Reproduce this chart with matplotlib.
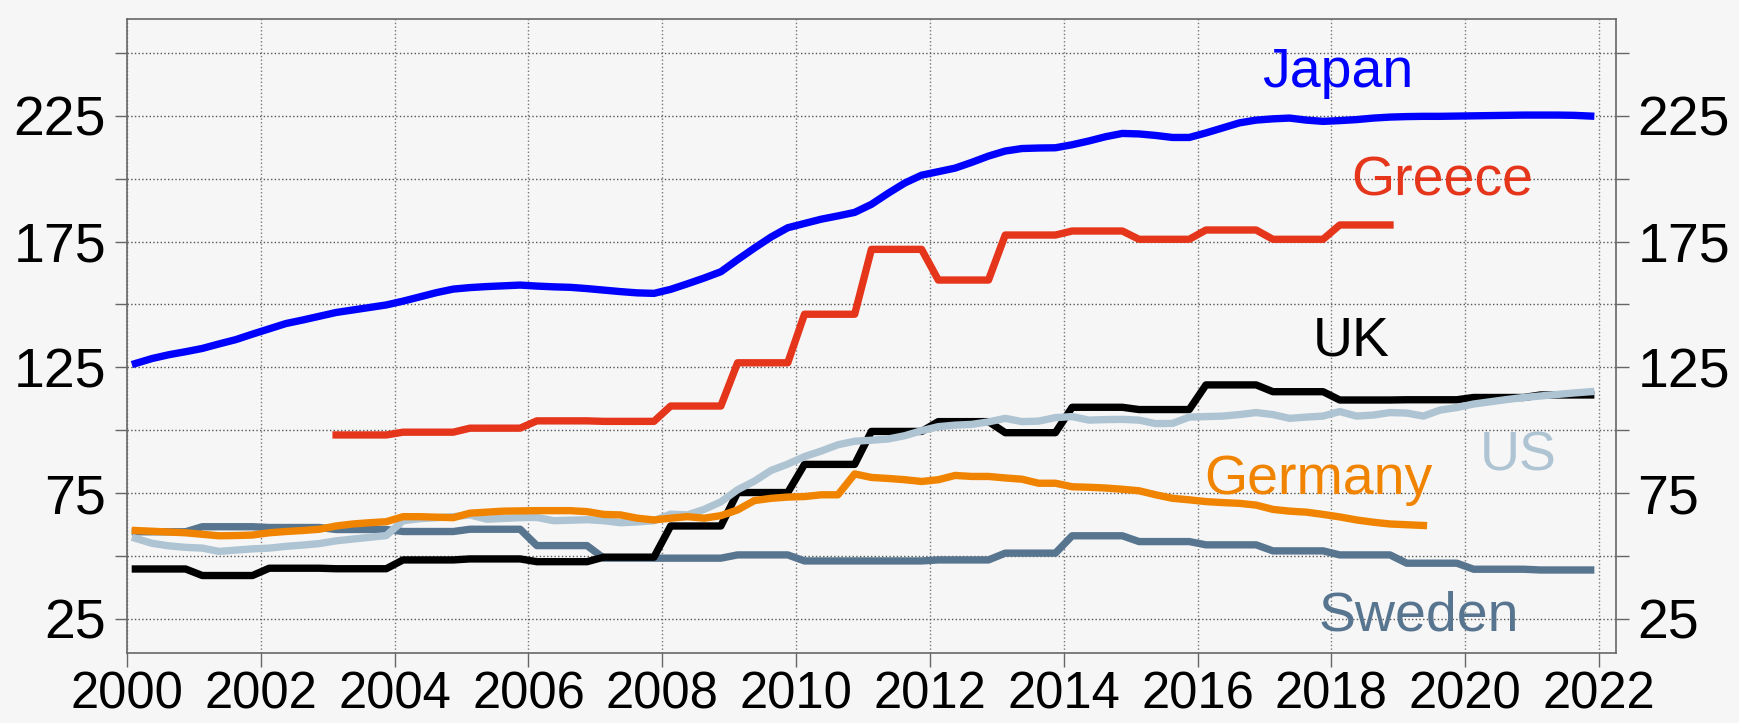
import matplotlib
matplotlib.use('Agg')
import matplotlib.pyplot as plt
import numpy as np
from matplotlib.ticker import MultipleLocator

# quarterly series, first quarter of 2000 onwards
japan = [126.5, 128.5, 130.0, 131.2, 132.5, 134.3, 136.0, 138.2,
         140.3, 142.4, 143.8, 145.3, 146.8, 147.8, 148.8, 149.8,
         151.3, 153.0, 154.7, 156.1, 156.7, 157.1, 157.4, 157.7,
         157.3, 157.0, 156.8, 156.3, 155.7, 155.1, 154.6, 154.4,
         156.0, 158.2, 160.5, 163.0, 167.8, 172.4, 176.8, 180.5,
         182.2, 183.9, 185.2, 186.6, 189.8, 194.2, 198.3, 201.4,
         202.8, 204.2, 206.5, 209.0, 211.0, 212.0, 212.2, 212.3,
         213.5, 215.0, 216.7, 218.0, 217.8, 217.2, 216.4, 216.4,
         218.2, 220.2, 222.2, 223.3, 223.8, 224.1, 223.3, 222.8,
         223.1, 223.5, 224.1, 224.5, 224.7, 224.8, 224.8, 224.9,
         225.0, 225.1, 225.2, 225.3, 225.3, 225.3, 225.2, 224.9]
us = [57.0, 55.0, 54.0, 53.4, 53.1, 51.8, 52.3, 52.8,
      53.1, 53.8, 54.3, 54.9, 56.0, 56.7, 57.4, 58.1,
      64.0, 64.8, 65.2, 65.6, 66.3, 64.6, 64.9, 65.2,
      65.3, 64.0, 64.2, 64.4, 64.0, 63.2, 63.5, 64.0,
      66.6, 66.3, 68.5, 71.5, 76.3, 79.7, 84.0, 86.5,
      89.5, 91.7, 94.2, 95.6, 96.0, 96.5, 97.8, 99.8,
      101.4, 102.0, 102.3, 103.3, 104.7, 103.4, 103.6, 105.0,
      105.4, 104.0, 104.2, 104.3, 104.0, 102.6, 102.7, 105.2,
      105.4, 105.6, 106.2, 107.0, 106.2, 104.7, 105.2, 105.6,
      107.4, 105.6, 106.0, 107.0, 106.8, 105.6, 108.0, 109.0,
      110.4, 111.3, 112.2, 113.0, 113.6, 114.2, 114.8, 115.3]
germany = [60.1, 59.8, 59.5, 59.2, 58.6, 58.0, 58.1, 58.3,
           59.2, 59.7, 60.1, 60.6, 61.9, 62.7, 63.2, 63.6,
           65.6, 65.6, 65.4, 65.2, 67.0, 67.4, 67.8, 67.9,
           68.0, 68.0, 68.0, 67.6, 66.5, 66.3, 65.0, 64.3,
           65.0, 65.6, 65.0, 66.0, 68.3, 72.0, 72.9, 73.4,
           73.6, 74.3, 74.3, 82.6, 81.2, 80.8, 80.3, 79.6,
           80.3, 82.0, 81.6, 81.6, 81.0, 80.5, 78.9, 78.9,
           77.5, 77.3, 77.0, 76.5, 75.9, 74.3, 72.9, 72.3,
           71.6, 71.2, 70.9, 70.2, 68.5, 67.8, 67.4, 66.5,
           65.5, 64.3, 63.4, 62.7, 62.4, 62.1]

# annual series (held flat through the four quarters)
uk_years = list(range(2000, 2022))
uk = [44.8, 42.2, 45.1, 44.9, 48.4, 48.8, 47.7, 49.5, 61.9, 75.2, 86.4,
      99.5, 103.4, 99.0, 109.1, 108.2, 118.0, 115.3, 112.0, 112.1, 113.0, 114.0]
sweden_years = list(range(2000, 2022))
sweden = [59.6, 61.6, 61.3, 60.5, 59.7, 60.6, 54.1, 49.1, 49.1, 50.4, 48.0,
          48.0, 48.4, 51.1, 58.0, 55.7, 54.4, 52.0, 50.4, 47.1, 44.7, 44.4]
greece_years = list(range(2003, 2019))
greece = [98.1, 99.2, 100.8, 103.7, 103.5, 109.6, 126.8, 146.1, 171.9,
          159.7, 177.6, 179.2, 175.9, 179.6, 175.9, 181.6]

labels = ['Japan', 'Greece', 'UK', 'US', 'Germany', 'Sweden']
colors = {'Japan': '#0000ff', 'Greece': '#e5361b', 'UK': '#000000',
          'US': '#aec4d3', 'Germany': '#f08400', 'Sweden': '#587590'}
label_pos = {'Japan': (2018.1, 236.5), 'Greece': (2019.66, 193.5),
             'UK': (2018.3, 129.8), 'US': (2020.79, 84.1),
             'Germany': (2017.8, 74.6), 'Sweden': (2019.3, 20.5)}


def quarters(start_year, n):
    return start_year + 0.125 + 0.25 * np.arange(n)


def annual(years, vals):
    return quarters(years[0], 4 * len(years)), np.repeat(vals, 4)


def main():
    plt.rcParams['font.family'] = ['Liberation Sans', 'DejaVu Sans']
    bg = '#f6f6f6'
    fig = plt.figure(figsize=(17.4, 7.23), dpi=100, facecolor=bg)
    ax = fig.add_axes([0.073, 0.0972, 0.856, 0.8765])
    ax.set_facecolor(bg)

    lw = 5.3
    x, y = annual(sweden_years, sweden)
    ax.plot(x, y, color=colors['Sweden'], lw=lw)
    x, y = annual(uk_years, uk)
    ax.plot(x, y, color=colors['UK'], lw=lw)
    ax.plot(quarters(2000, len(us)), us, color=colors['US'], lw=lw)
    ax.plot(quarters(2000, len(germany)), germany, color=colors['Germany'], lw=lw)
    x, y = annual(greece_years, greece)
    ax.plot(x, y, color=colors['Greece'], lw=lw)
    ax.plot(quarters(2000, len(japan)), japan, color=colors['Japan'], lw=lw)

    for name in labels:
        px, py = label_pos[name]
        ax.text(px, py, name, color=colors[name], fontsize=40,
                ha='center', va='baseline')

    ax.set_xlim(2000, 2022.26)
    ax.set_ylim(11.5, 263.5)
    ax.xaxis.set_major_locator(MultipleLocator(2))
    ax.yaxis.set_major_locator(MultipleLocator(50, offset=25))
    ax.yaxis.set_minor_locator(MultipleLocator(25))
    ax.grid(True, axis='x', which='major', ls=':', color='#777777', lw=1)
    ax.grid(True, axis='y', which='both', ls=':', color='#555555', lw=1)

    ax.tick_params(axis='y', which='both', left=True, right=True,
                   labelleft=True, labelright=True, length=9, width=1,
                   color='#666666', labelsize=40, pad=6)
    ax.tick_params(axis='x', length=10, width=1, color='#666666',
                   labelsize=36.5, pad=3)
    for s in ax.spines.values():
        s.set_color('#666666')
        s.set_linewidth(1.2)

    fig.savefig('out.png', dpi=100, facecolor=bg)


main()
